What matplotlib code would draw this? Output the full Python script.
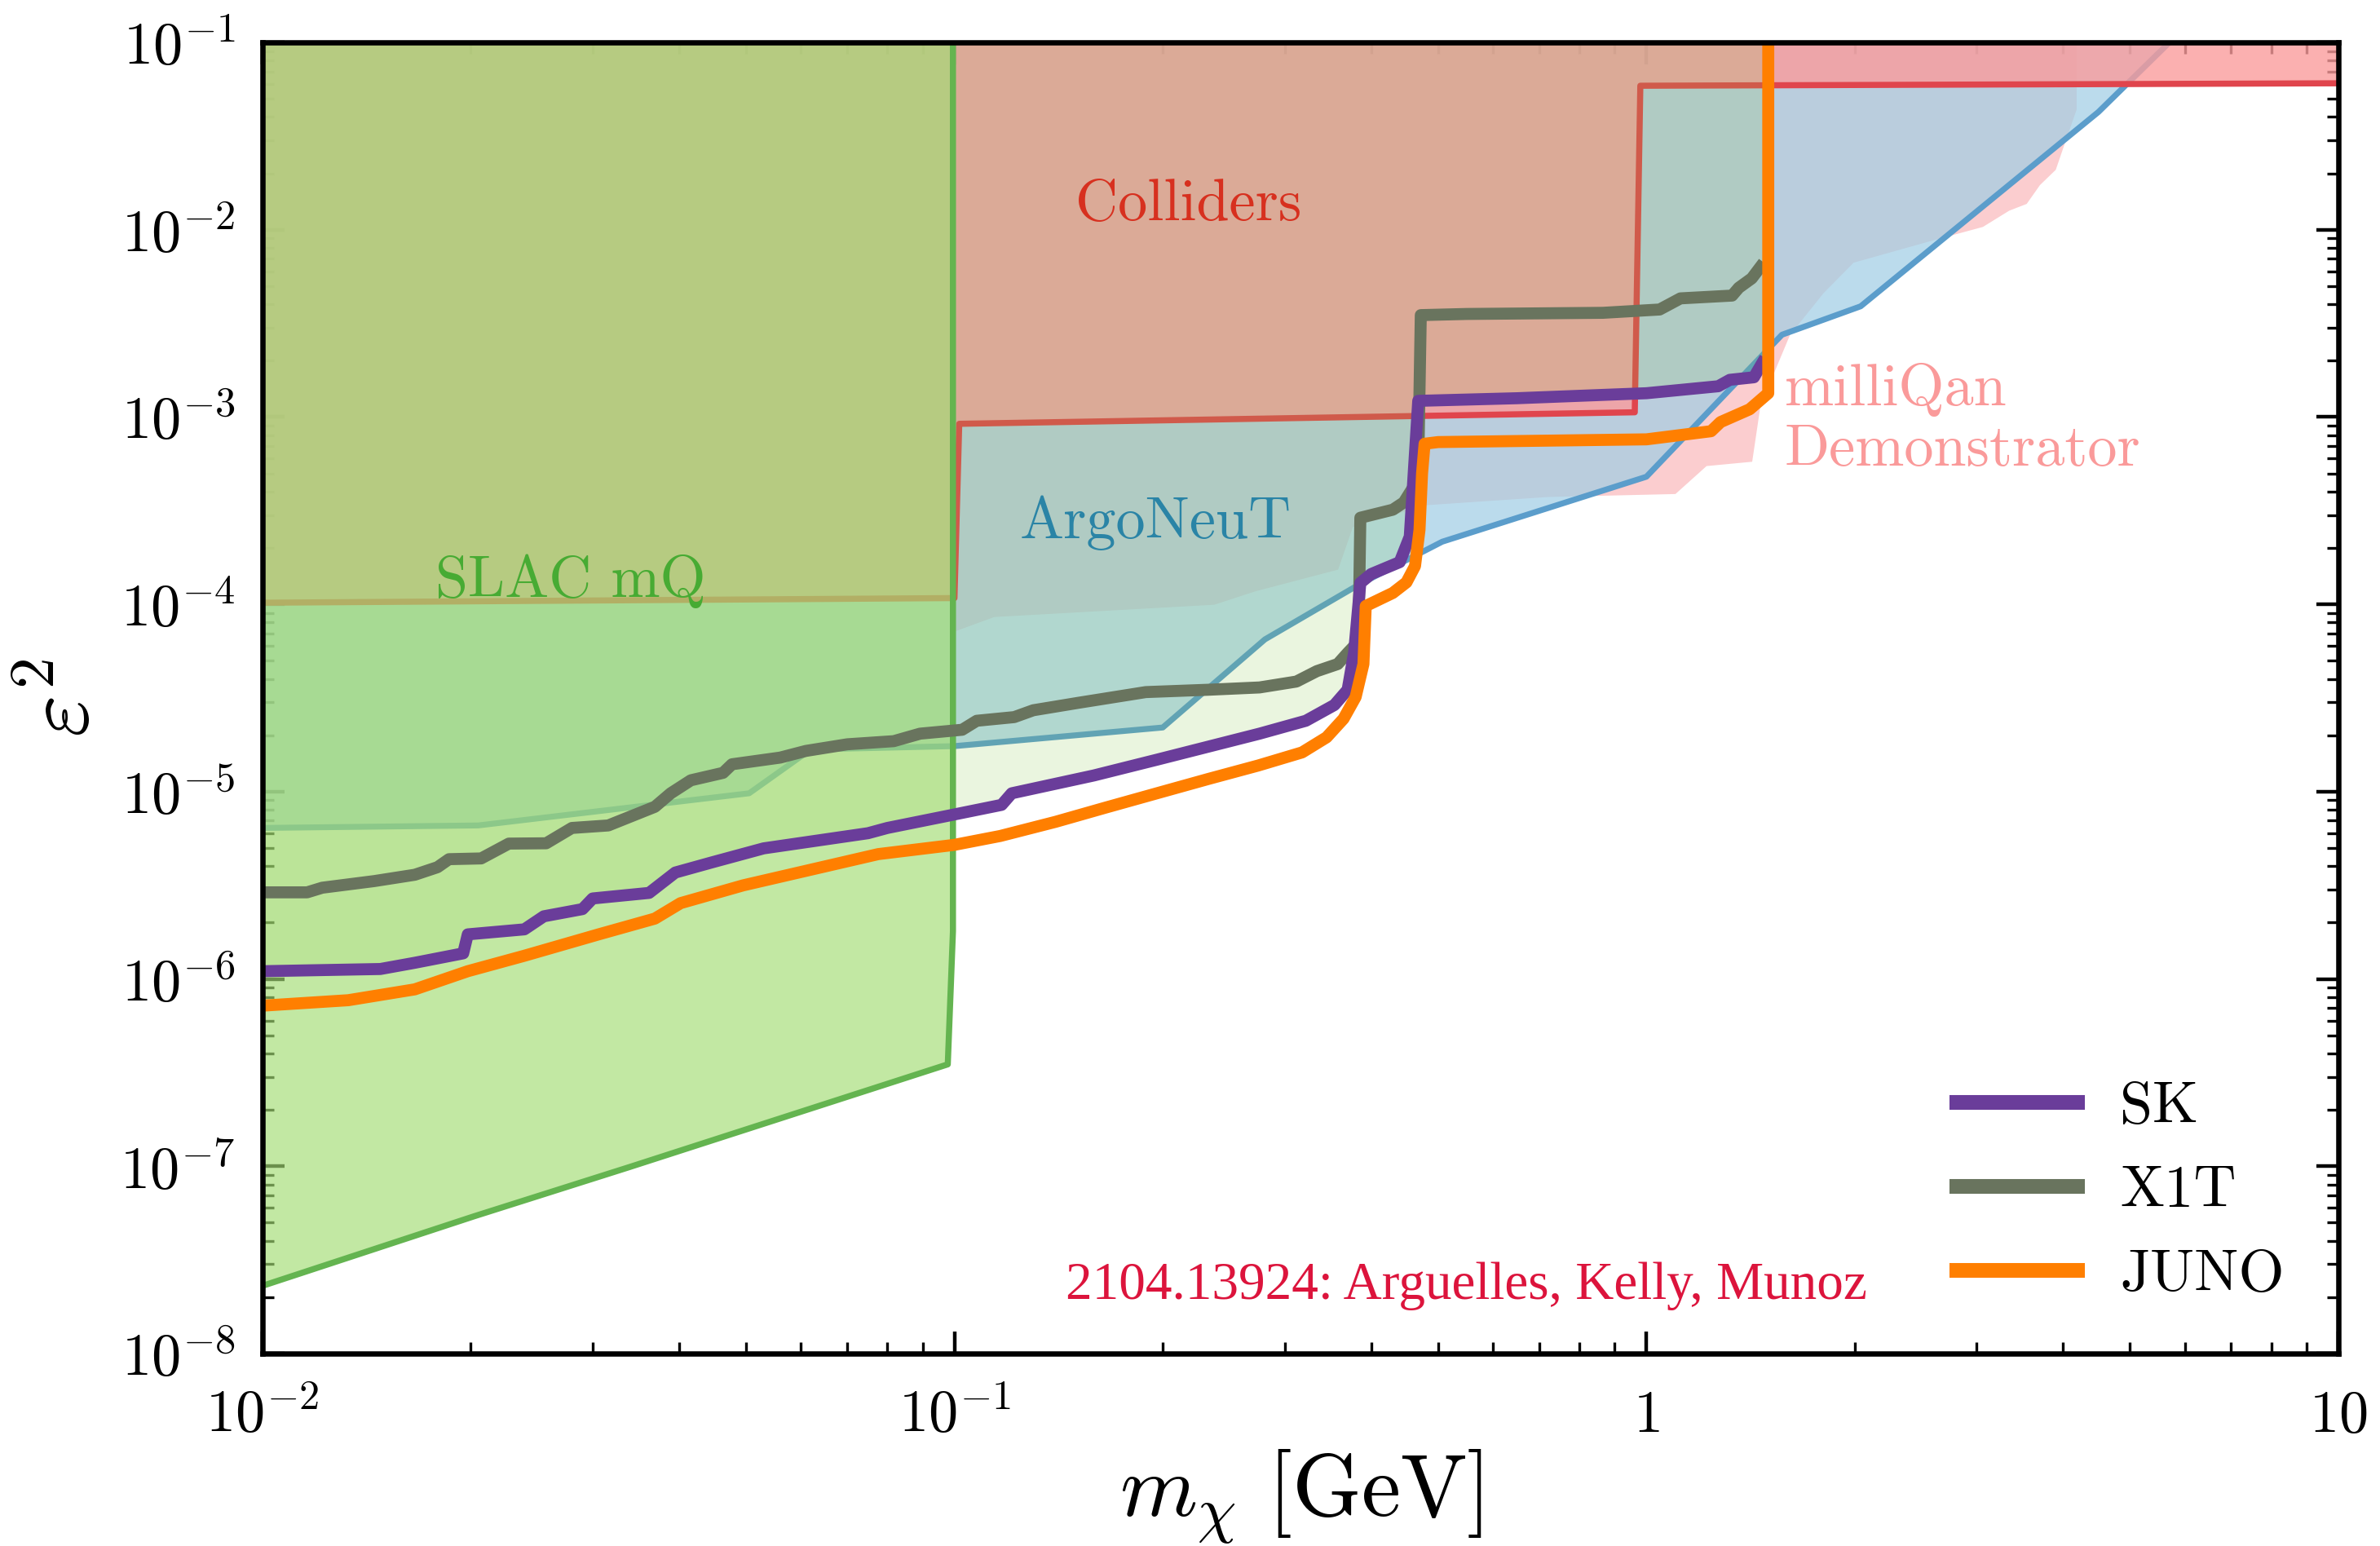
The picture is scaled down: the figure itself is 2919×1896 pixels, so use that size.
import numpy as np
import matplotlib
matplotlib.use("Agg")
import matplotlib.pyplot as plt
from matplotlib.ticker import LogLocator, NullFormatter

plt.rcParams['font.family'] = 'serif'
plt.rcParams['font.serif'] = ['cmr10']
plt.rcParams['mathtext.fontset'] = 'cm'
plt.rcParams['axes.formatter.use_mathtext'] = True

# ---- existing limits (lower edge of each excluded region, eps^2 vs mass in GeV)
slac_m = [0.01, 0.0202, 0.0339, 0.0978, 0.0995, 0.0995]
slac_eps2 = [2.3e-8, 5.4e-8, 9.9e-8, 3.5e-7, 1.8e-6, 0.1]

col_m = [0.01, 0.1, 0.1016, 0.962, 0.98, 10.0]
col_eps2 = [1.02e-4, 1.08e-4, 9.2e-4, 1.06e-3, 0.0587, 0.0605]

argo_m = [0.01, 0.0205, 0.0505, 0.062, 0.1, 0.2, 0.281, 0.385, 0.507, 1.0, 1.57, 2.04, 4.5, 5.7]
argo_eps2 = [6.4e-6, 6.6e-6, 9.8e-6, 1.68e-5, 1.75e-5, 2.2e-5, 6.5e-5, 1.28e-4, 2.16e-4, 4.8e-4,
             2.75e-3, 3.9e-3, 4.25e-2, 0.1]

mq_m = [0.1, 0.1, 0.114, 0.237, 0.272, 0.358, 0.376, 0.48, 0.72, 1.1, 1.22, 1.42,
        1.46, 1.61, 1.8, 1.99, 2.56, 3.06, 3.34, 3.54, 3.7, 3.9, 4.0, 4.18, 4.18]
mq_eps2 = [0.1, 7.2e-5, 8.6e-5, 1.0e-4, 1.18e-4, 1.54e-4, 2.6e-4, 3.4e-4, 3.76e-4,
           3.9e-4, 5.5e-4, 5.8e-4, 1.16e-3, 2.75e-3, 4.6e-3, 6.7e-3, 8.7e-3, 1.04e-2, 1.27e-2,
           1.38e-2, 1.74e-2, 2.1e-2, 2.76e-2, 4.4e-2, 0.1]

# ---- projected sensitivities
sk_m = [0.01, 0.0148, 0.0166, 0.0195, 0.0198, 0.0239, 0.0255, 0.029, 0.030, 0.0362, 0.0395, 0.0447,
        0.053, 0.075, 0.080, 0.099, 0.117, 0.121, 0.159, 0.196, 0.276, 0.322, 0.354, 0.37, 0.378,
        0.386, 0.40, 0.44, 0.455, 0.468, 0.65, 1.0, 1.27, 1.32, 1.43, 1.47]
sk_eps2 = [1.1e-6, 1.13e-6, 1.22e-6, 1.37e-6, 1.73e-6, 1.84e-6, 2.16e-6, 2.36e-6, 2.69e-6, 2.88e-6,
           3.7e-6, 4.2e-6, 4.98e-6, 6.0e-6, 6.4e-6, 7.5e-6, 8.5e-6, 9.8e-6, 1.22e-5, 1.48e-5,
           2.04e-5, 2.39e-5, 2.9e-5, 3.5e-5, 5.5e-5, 1.3e-4, 1.45e-4, 1.68e-4, 2.3e-4, 1.22e-3,
           1.26e-3, 1.34e-3, 1.46e-3, 1.58e-3, 1.63e-3, 1.94e-3]

x1t_m = [0.01, 0.0116, 0.0122, 0.0145, 0.0166, 0.0179, 0.0186, 0.0207, 0.0227, 0.0257, 0.028, 0.0316,
         0.0369, 0.0389, 0.0416, 0.0463, 0.0477, 0.056, 0.061, 0.07, 0.0817, 0.0892, 0.1026, 0.1077,
         0.122, 0.13, 0.151, 0.189, 0.233, 0.276, 0.312, 0.334, 0.358, 0.37, 0.38, 0.384, 0.386,
         0.43, 0.446, 0.46, 0.468, 0.472, 0.55, 0.865, 1.045, 1.12, 1.33, 1.36, 1.42, 1.46]
x1t_eps2 = [2.9e-6, 2.9e-6, 3.07e-6, 3.33e-6, 3.6e-6, 3.95e-6, 4.36e-6, 4.4e-6, 5.28e-6, 5.3e-6,
            6.4e-6, 6.6e-6, 8.3e-6, 9.8e-6, 1.15e-5, 1.26e-5, 1.4e-5, 1.52e-5, 1.65e-5, 1.79e-5,
            1.86e-5, 2.04e-5, 2.14e-5, 2.39e-5, 2.5e-5, 2.72e-5, 2.98e-5, 3.4e-5, 3.5e-5, 3.6e-5,
            3.87e-5, 4.4e-5, 4.8e-5, 5.5e-5, 6.1e-5, 8e-5, 2.9e-4, 3.2e-4, 3.5e-4, 4.2e-4, 5.5e-4,
            3.5e-3, 3.55e-3, 3.6e-3, 3.75e-3, 4.3e-3, 4.45e-3, 4.9e-3, 5.5e-3, 6.3e-3]

juno_m = [0.01, 0.0133, 0.0166, 0.0198, 0.0239, 0.0306, 0.0369, 0.0402, 0.0495, 0.0776, 0.1, 0.1165,
          0.14, 0.165, 0.2, 0.233, 0.275, 0.318, 0.345, 0.365, 0.38, 0.39, 0.393, 0.43, 0.45, 0.463,
          0.47, 0.474, 0.478, 0.5, 1.0, 1.24, 1.28, 1.41, 1.5, 1.5]
juno_eps2 = [7.2e-7, 7.7e-7, 8.8e-7, 1.1e-6, 1.33e-6, 1.73e-6, 2.1e-6, 2.54e-6, 3.16e-6, 4.64e-6,
             5.2e-6, 5.8e-6, 6.9e-6, 8.2e-6, 1.0e-5, 1.17e-5, 1.38e-5, 1.62e-5, 1.95e-5, 2.45e-5,
             3.2e-5, 4.8e-5, 9.8e-5, 1.15e-4, 1.31e-4, 1.6e-4, 2.5e-4, 5e-4, 7.2e-4, 7.35e-4,
             7.6e-4, 8.4e-4, 9.4e-4, 1.1e-3, 1.34e-3, 0.1]

x_ticks = [1e-2, 1e-1, 1, 10]
x_ticklabels = [r'$10^{-2}$', r'$10^{-1}$', r'$1$', r'$10$']
y_ticks = [1e-8, 1e-7, 1e-6, 1e-5, 1e-4, 1e-3, 1e-2, 1e-1]
y_ticklabels = [r'$10^{-%d}$' % k for k in range(8, 0, -1)]

top = 0.1

fig = plt.figure(figsize=(14.595, 9.48), dpi=200)
ax = fig.add_axes([0.1103, 0.12447, 0.8722, 0.8481])
ax.set_xscale('log')
ax.set_yscale('log')

# excluded regions, filled up to the top of the plot
ax.fill_between(mq_m, mq_eps2, top, color='#f78287', alpha=0.4, lw=0, zorder=1)
ax.fill_between(argo_m, argo_eps2, top, color='#9fcde4', alpha=0.7, lw=0, zorder=2)
ax.plot(argo_m, argo_eps2, color='#5b9dcb', lw=2.6, zorder=2.1)
ax.fill_between(col_m, col_eps2, top, color='#fa9c9c', alpha=0.8, lw=0, zorder=3)
ax.plot(col_m, col_eps2, color='#e0454d', lw=2.7, zorder=3.1)
ax.fill_between(sk_m, sk_eps2, top, color='#84c443', alpha=0.17, lw=0, zorder=3.5)
ax.fill_between(slac_m, slac_eps2, top, color='#a3dc74', alpha=0.66, lw=0, zorder=4)
ax.plot(slac_m, slac_eps2, color='#64b450', lw=2.7, zorder=4.1)

l_x1t, = ax.plot(x1t_m, x1t_eps2, color='#69745e', lw=5.3, zorder=6, label='X1T')
l_sk, = ax.plot(sk_m, sk_eps2, color='#6a3d9a', lw=5.3, zorder=7, label='SK')
l_juno, = ax.plot(juno_m, juno_eps2, color='#ff7f00', lw=5.3, zorder=8, label='JUNO')

ax.text(0.218, 1.12e-2, 'Colliders', color='#d7301f', fontsize=26, ha='center', va='baseline', zorder=9)
ax.text(0.0279, 1.1e-4, 'SLAC mQ', color='#47ab33', fontsize=26, ha='center', va='baseline', zorder=9)
ax.text(0.195, 2.25e-4, 'ArgoNeuT', color='#2a84a6', fontsize=26, ha='center', va='baseline', zorder=9)
ax.text(1.585, 1.16e-3, 'milliQan', color='#fa9a9a', fontsize=26, ha='left', va='baseline', zorder=9)
ax.text(1.585, 5.5e-4, 'Demonstrator', color='#fa9a9a', fontsize=26, ha='left', va='baseline', zorder=9)
ax.text(0.55, 1.95e-8, '2104.13924: Arguelles, Kelly, Munoz', color='crimson', fontsize=23.5,
        family='Liberation Serif', ha='center', va='baseline', zorder=9)

leg = ax.legend(handles=[l_sk, l_x1t, l_juno], loc='lower right', bbox_to_anchor=(0.974, 0.039),
                frameon=False, fontsize=26, handlelength=2.05, handletextpad=0.72,
                labelspacing=0.53, borderpad=0, borderaxespad=0)
for h in leg.get_lines():
    h.set_linewidth(6.5)

ax.set_xlim(1e-2, 10)
ax.set_ylim(1e-8, 1e-1)
ax.set_xticks(x_ticks)
ax.set_xticklabels(x_ticklabels)
ax.set_yticks(y_ticks)
ax.set_yticklabels(y_ticklabels)
ax.xaxis.set_minor_locator(LogLocator(base=10, subs=np.arange(2, 10), numticks=100))
ax.yaxis.set_minor_locator(LogLocator(base=10, subs=np.arange(2, 10), numticks=100))
ax.xaxis.set_minor_formatter(NullFormatter())
ax.yaxis.set_minor_formatter(NullFormatter())

ax.tick_params(which='both', direction='in', top=True, right=True, labelsize=26)
ax.tick_params(which='major', length=9.7, width=1.6)
ax.tick_params(which='minor', length=5, width=1.2)
ax.tick_params(axis='x', which='major', pad=34.5)
ax.tick_params(axis='y', which='major', pad=12)
for lab in ax.get_xticklabels():
    lab.set_va('baseline')

ax.set_axisbelow(True)
for sp in ax.spines.values():
    sp.set_linewidth(2.35)
    sp.set_zorder(10)

ax.set_xlabel(r'$m_\chi\ [\mathrm{GeV}]$', fontsize=39, labelpad=2)
ax.set_ylabel(r'$\varepsilon^2$', fontsize=40, labelpad=6)

fig.savefig('out.png', dpi=200)
